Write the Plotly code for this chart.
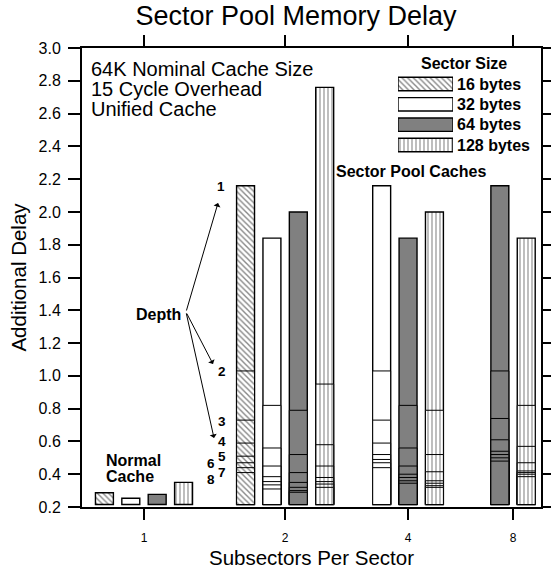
import plotly.graph_objects as go

# ---------------- data ----------------
SECTOR_SIZES = ['16 bytes', '32 bytes', '64 bytes', '128 bytes']
SUBSECTORS = ['1', '2', '4', '8']

# normal cache (1 subsector per sector), one value per sector size
NORMAL_DELAY = [0.287, 0.253, 0.277, 0.350]

# sector pool caches: delay for depth 1..8
D16_S2 = [2.16, 1.03, 0.73, 0.59, 0.51, 0.47, 0.44, 0.41]
D32_S2 = [1.84, 0.82, 0.56, 0.45, 0.385, 0.355, 0.335, 0.31]
D64_S2 = [2.00, 0.79, 0.52, 0.41, 0.35, 0.32, 0.30, 0.29]
D128_S2 = [2.76, 0.95, 0.58, 0.45, 0.38, 0.355, 0.34, 0.32]
D32_S4 = [2.16, 1.03, 0.73, 0.59, 0.52, 0.49, 0.47, 0.44]
D64_S4 = [1.84, 0.82, 0.56, 0.45, 0.40, 0.38, 0.36, 0.345]
D128_S4 = [2.00, 0.79, 0.52, 0.415, 0.36, 0.345, 0.33, 0.32]
D64_S8 = [2.16, 1.03, 0.74, 0.61, 0.54, 0.52, 0.50, 0.48]
D128_S8 = [1.84, 0.82, 0.57, 0.47, 0.42, 0.41, 0.40, 0.385]

DEPTH_LABELS = ['1', '2', '3', '4', '5', '6', '7', '8']

# which sector sizes exist for each subsector count (pool caches)
POOL = {
    '2': {'16 bytes': D16_S2, '32 bytes': D32_S2, '64 bytes': D64_S2, '128 bytes': D128_S2},
    '4': {'32 bytes': D32_S4, '64 bytes': D64_S4, '128 bytes': D128_S4},
    '8': {'64 bytes': D64_S8, '128 bytes': D128_S8},
}

# ---------------- layout / style ----------------
W, H = 551, 573
ML, MR, MT, MB = 82, 10, 48, 66
PW, PH = W - ML - MR, H - MT - MB
X_RANGE = [0, 17.4]
GROUP_POS = [2.35, 7.70, 12.36, 16.34]   # axis positions of the subsector groups
BAR_W = 0.68
BASE = 0.215
Y_RANGE = [0.2, 3.0]
FONT = 'Liberation Sans, Arial, sans-serif'

STYLE = {
    '16 bytes': dict(color='white', pattern=dict(shape='\\', fgcolor='#111', bgcolor='white', size=4, solidity=0.35)),
    '32 bytes': dict(color='white'),
    '64 bytes': dict(color='#808080'),
    '128 bytes': dict(color='white', pattern=dict(shape='|', fgcolor='#222', bgcolor='white', size=4, solidity=0.3)),
}


def px(x):
    return (x - ML) / PW


def py(y):
    return (H - MB - y) / PH


fig = go.Figure()

# normal cache bars
g0 = GROUP_POS[0]
n = len(SECTOR_SIZES)
for i, s in enumerate(SECTOR_SIZES):
    fig.add_trace(go.Bar(
        x=[g0 + (i - (n - 1) / 2)], y=[NORMAL_DELAY[i] - BASE], base=BASE, width=BAR_W,
        marker=dict(**STYLE[s], line=dict(color='black', width=1.4)),
        showlegend=False, hoverinfo='skip'))

# sector pool bars, drawn depth 1 (tallest) first so each depth shows as a line
for gi, sub in enumerate(SUBSECTORS[1:], start=1):
    sizes = POOL[sub]
    keys = [s for s in SECTOR_SIZES if s in sizes]
    n = len(keys)
    for i, s in enumerate(keys):
        xpos = GROUP_POS[gi] + (i - (n - 1) / 2)
        vals = sizes[s]
        for d, v in enumerate(vals):
            fig.add_trace(go.Bar(
                x=[xpos], y=[v - BASE], base=BASE, width=BAR_W,
                marker=dict(**STYLE[s], line=dict(color='black', width=1.4 if d == 0 else 1)),
                showlegend=False, hoverinfo='skip'))

# legend swatches on a small auxiliary axis pair
for s in SECTOR_SIZES:
    fig.add_trace(go.Bar(
        y=[s], x=[1], orientation='h', width=0.66, xaxis='x2', yaxis='y2',
        marker=dict(**STYLE[s], line=dict(color='black', width=1.4)),
        showlegend=False, hoverinfo='skip'))

fig.update_layout(
    width=W, height=H, autosize=False,
    margin=dict(l=ML, r=MR, t=MT, b=MB, autoexpand=False),
    paper_bgcolor='white', plot_bgcolor='white',
    barmode='overlay',
    font=dict(family=FONT, color='black'),
    title=dict(text='Sector Pool Memory Delay', x=px(296), xref='paper', xanchor='center',
               y=1 - 16 / H, yref='container', yanchor='middle',
               font=dict(size=27, family=FONT, color='black')),
    xaxis=dict(range=X_RANGE, tickvals=GROUP_POS, ticktext=SUBSECTORS, automargin=False,
               showline=True, linewidth=2, linecolor='black', mirror='ticks',
               ticks='outside', ticklen=11, tickwidth=2, tickcolor='black',
               showgrid=False, zeroline=False, tickfont=dict(size=12),
               ticklabelstandoff=8,
               title=dict(text='Subsectors Per Sector', font=dict(size=20.5), standoff=6)),
    yaxis=dict(range=Y_RANGE, tick0=0.2, dtick=0.2, tickformat='.1f', automargin=False,
               showline=True, linewidth=2, linecolor='black', mirror='ticks',
               ticks='outside', ticklen=12, tickwidth=2, tickcolor='black',
               showgrid=False, zeroline=False, tickfont=dict(size=16),
               ticklabelstandoff=4,
               title=dict(text='Additional Delay', font=dict(size=20.5), standoff=6)),
    xaxis2=dict(domain=[px(398), px(453)], range=[0, 1], anchor='y2', visible=False,
                fixedrange=True, automargin=False),
    yaxis2=dict(domain=[py(155.2), py(73.8)], anchor='x2', type='category', automargin=False,
                categoryorder='array', categoryarray=SECTOR_SIZES, autorange='reversed',
                side='right', showline=False, showgrid=False, zeroline=False, ticks='',
                ticklabelstandoff=3,
                tickfont=dict(size=16, family='Liberation Sans, Arial', weight='bold')),
    showlegend=False,
)

ann = []


def text(t, x, y, size=16, bold=True, xanchor='center'):
    ann.append(dict(text=t, x=px(x), y=py(y), xref='paper', yref='paper',
                    xanchor=xanchor, yanchor='middle', showarrow=False,
                    font=dict(size=size, family=FONT, color='black', weight='bold' if bold else 'normal')))


text('64K Nominal Cache Size', 89, 68.5, size=20, bold=False, xanchor='left')
text('15 Cycle Overhead', 89, 88.5, size=20, bold=False, xanchor='left')
text('Unified Cache', 89, 108.5, size=20, bold=False, xanchor='left')
text('Sector Size', 464, 63)
text('Sector Pool Caches', 411, 171)
text('Normal', 104, 460, xanchor='left')
text('Cache', 104, 476, xanchor='left')
text('Depth', 158, 315)

DEPTH_LABEL_POS = [(221, 187), (222, 372), (222, 421), (222, 441), (222, 456), (211, 463), (222, 472), (211, 479)]
for lab, (x, y) in zip(DEPTH_LABELS, DEPTH_LABEL_POS):
    text(lab, x, y, size=13.5)

# arrows from "Depth"
for hx, hy in [(218, 203), (213, 364), (214, 438)]:
    ann.append(dict(x=px(hx), y=py(hy), xref='paper', yref='paper', text='',
                    showarrow=True, arrowhead=1, arrowsize=1.2, arrowwidth=1, arrowcolor='black',
                    ax=186 - hx, ay=312 - hy, standoff=0, startstandoff=0))

fig.update_layout(annotations=ann)

fig.write_html('out.html', config={'displayModeBar': False},
               post_script="document.body.style.margin='0px';document.body.style.overflow='hidden';")
